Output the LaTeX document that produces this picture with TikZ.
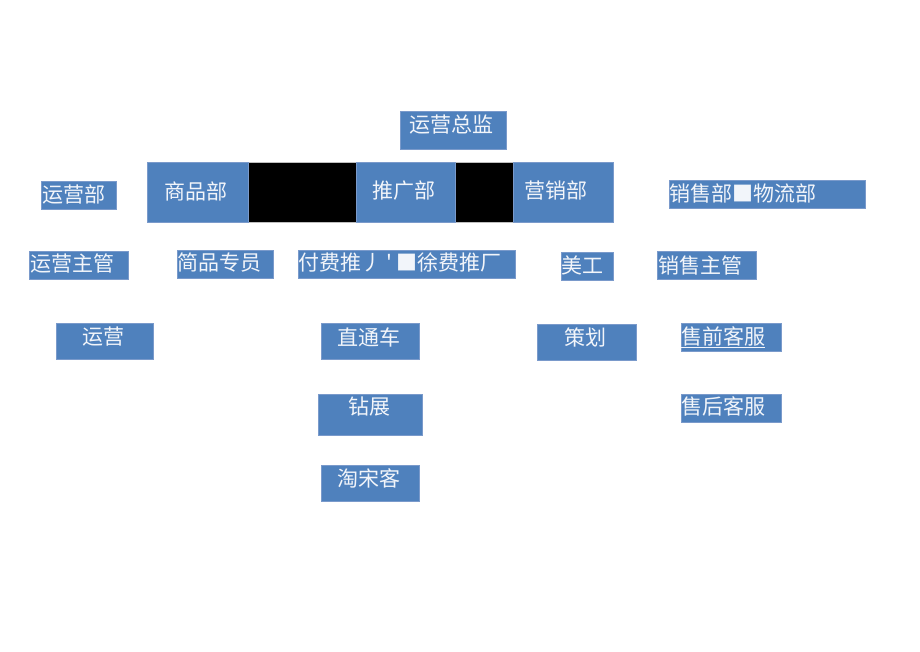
\documentclass[tikz,border=0pt]{standalone}
\usepackage{fontspec}
\setmainfont{Noto Sans CJK SC}[Ligatures=TeXOff]
\definecolor{boxblue}{HTML}{4F81BD}
\definecolor{boxedge}{HTML}{7A9ACB}
\definecolor{txtwhite}{HTML}{F2F5FA}
\definecolor{bandedge}{HTML}{BFBFBF}
\begin{document}
\begin{tikzpicture}[x=1pt,y=-1pt,
  box/.style={fill=boxblue, draw=boxedge, line width=0.6pt, inner sep=0pt, outer sep=0pt, anchor=north west},
  bandbox/.style={fill=black, draw=bandedge, line width=0.8pt, inner sep=0pt, outer sep=0pt, anchor=north west},
  txt/.style={text=txtwhite, font=\fontsize{21}{21}\selectfont, inner sep=0pt, anchor=west},
]
\useasboundingbox (0,0) rectangle (920,651);
% top
\node[box, minimum width=106pt, minimum height=38pt] (zjbox) at (400,111) {};
% band
\node[bandbox, minimum width=466pt, minimum height=60pt] (band) at (147,162) {};
\node[box, minimum width=101pt, minimum height=60pt] (spbox) at (147,162) {};
\node[box, minimum width=99pt, minimum height=60pt] (tgbox) at (356,162) {};
\node[box, minimum width=100pt, minimum height=60pt] (yxbox) at (513,162) {};
% left column
\node[box, minimum width=75pt, minimum height=28pt] (yybbox) at (41,181) {};
\node[box, minimum width=99pt, minimum height=28pt] (yyzgbox) at (29,251) {};
\node[box, minimum width=97pt, minimum height=36pt] (yybox) at (56,323) {};
% shangpin
\node[box, minimum width=96pt, minimum height=28pt] (spzybox) at (177,250) {};
% tuiguang
\node[box, minimum width=217pt, minimum height=28pt] (ffbox) at (298,250) {};
\node[box, minimum width=98pt, minimum height=36pt] (ztcbox) at (321,323) {};
\node[box, minimum width=104pt, minimum height=41pt] (zzbox) at (318,394) {};
\node[box, minimum width=98pt, minimum height=36pt] (tbkbox) at (321,465) {};
% yingxiao
\node[box, minimum width=52pt, minimum height=28pt] (mgbox) at (561,252) {};
\node[box, minimum width=99pt, minimum height=36pt] (chbox) at (537,324) {};
% xiaoshou
\node[box, minimum width=196pt, minimum height=28pt] (xsbbox) at (669,180) {};
\node[box, minimum width=99pt, minimum height=28pt] (xszgbox) at (657,251) {};
\node[box, minimum width=100pt, minimum height=28pt] (sqbox) at (681,323) {};
\node[box, minimum width=100pt, minimum height=28pt] (shbox) at (681,394) {};
% texts
\node[txt] (zj) at (409,125) {运营总监};
\node[txt] (sp) at (164,191) {商品部};
\node[txt] (tg) at (372,191) {推广部};
\node[txt] (yx) at (524,191) {营销部};
\node[txt] (yyb) at (42,195) {运营部};
\node[txt] (yyzg) at (30,264) {运营主管};
\node[txt] (yy) at (82,337) {运营};
\node[txt] (spzy) at (177,263) {简品专员};
\node[txt] (ff) at (298,263) {付费推丿\hspace{4pt}'\hspace{4pt}■徐费推厂};
\node[txt] (ztc) at (337,337) {直通车};
\node[txt] (zz) at (348,407) {钻展};
\node[txt] (tbk) at (337,478) {淘宋客};
\node[txt] (mg) at (561,265) {美工};
\node[txt] (ch) at (564,337) {策划};
\node[txt] (xsb) at (669,193) {销售部■物流部};
\node[txt] (xszg) at (658,265) {销售主管};
\node[txt] (sq) at (681,337) {\underline{售前客服}};
\node[txt] (sh) at (681,406) {售后客服};
\end{tikzpicture}
\end{document}
